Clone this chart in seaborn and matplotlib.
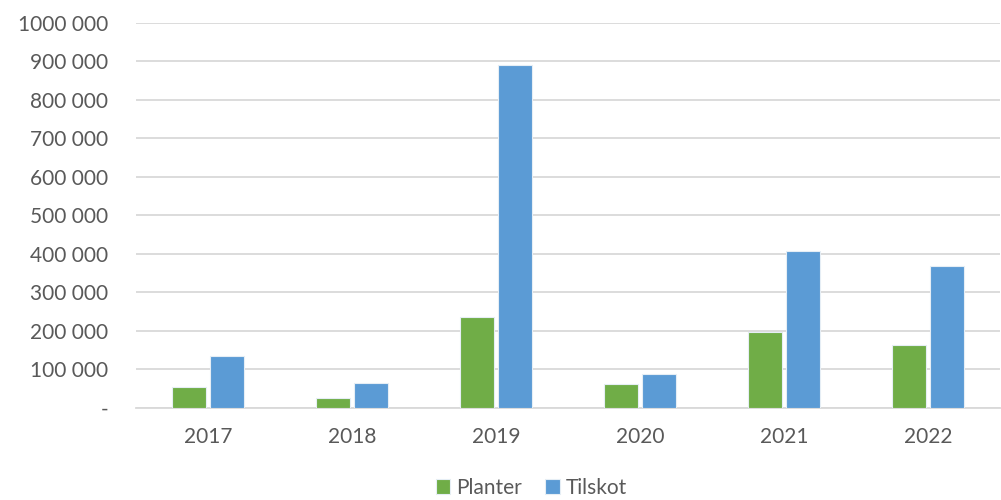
import pandas as pd
import matplotlib
matplotlib.use('Agg')
import matplotlib.pyplot as plt
import seaborn as sns

years = ['2017', '2018', '2019', '2020', '2021', '2022']
planter = [52500, 24000, 234500, 60000, 197000, 163000]
tilskot = [134000, 64000, 891500, 87000, 408000, 367000]
series_names = ['Planter', 'Tilskot']
colors = ['#70AD47', '#5B9BD5']
y_ticks = [0, 100000, 200000, 300000, 400000, 500000, 600000, 700000, 800000, 900000, 1000000]
y_labels = ['-', '100 000', '200 000', '300 000', '400 000', '500 000',
            '600 000', '700 000', '800 000', '900 000', '1000 000']

df = pd.DataFrame({
    'year': years * 2,
    'value': planter + tilskot,
    'series': [series_names[0]] * len(years) + [series_names[1]] * len(years),
})

sns.set_style('white')
plt.rcParams['font.family'] = ['Lato', 'DejaVu Sans']
text_color = '#595959'

fig = plt.figure(figsize=(10.01, 5.0), dpi=100)
ax = fig.add_axes([0.136, 0.185, 0.863, 0.769])

sns.barplot(data=df, x='year', y='value', hue='series', palette=colors,
            width=0.53, gap=0.12, edgecolor='#E6EEF5', linewidth=0.8,
            saturation=1, ax=ax, zorder=3)

ax.set_ylim(0, 1000000)
ax.set_yticks(y_ticks)
ax.set_yticklabels(y_labels)
ax.grid(axis='y', color='#D9D9D9', linewidth=1.3, zorder=0)
ax.set_axisbelow(True)
for s in ['top', 'right', 'left']:
    ax.spines[s].set_visible(False)
ax.spines['bottom'].set_color('#D9D9D9')
ax.spines['bottom'].set_linewidth(1.3)
ax.tick_params(axis='both', length=0, labelsize=15, labelcolor=text_color)
ax.tick_params(axis='y', pad=20)
ax.tick_params(axis='x', pad=14)
ax.set_xlabel('')
ax.set_ylabel('')

handles, labels = ax.get_legend_handles_labels()
ax.legend_.remove()
fig.legend(handles, labels, loc='center', bbox_to_anchor=(0.531, 0.024), ncol=2,
           frameon=False, fontsize=15, handlelength=0.7, handleheight=0.7,
           handletextpad=0.3, columnspacing=1.1, labelcolor=text_color,
           borderpad=0.1)

fig.savefig('out.png', dpi=100)
